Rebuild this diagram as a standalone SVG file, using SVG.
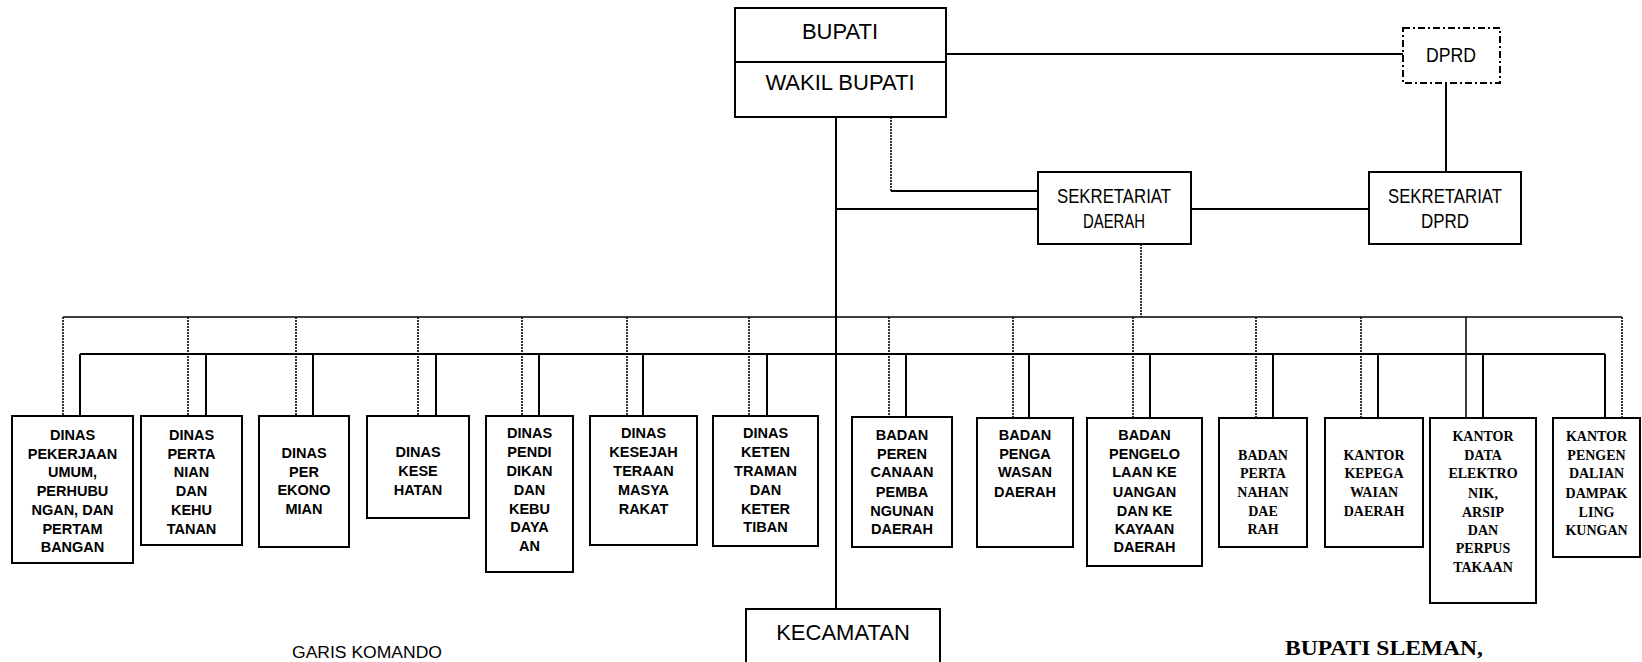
<svg xmlns="http://www.w3.org/2000/svg" width="1642" height="662" viewBox="0 0 1642 662">
<style>
.bx{fill:#fff;stroke:#000;stroke-width:2}
.dp{fill:#fff;stroke:#000;stroke-width:2;stroke-dasharray:7 3 2 3}
.ln{fill:none;stroke:#000;stroke-width:2}
.dl{fill:none;stroke:#000;stroke-width:1.6;stroke-dasharray:2 1}
.th{fill:none;stroke:#000;stroke-width:1.5}
.big{font-family:"Liberation Sans",Arial,sans-serif;font-size:22px;text-anchor:middle;fill:#000}
.mid{font-family:"Liberation Sans",Arial,sans-serif;font-size:20px;text-anchor:middle;fill:#000}
.t{font-family:"Liberation Sans",Arial,sans-serif;font-weight:bold;font-size:14.5px;text-anchor:middle;fill:#000}
.s{font-family:"Liberation Serif","Times New Roman",serif;font-weight:bold;font-size:14px;text-anchor:middle;fill:#000}
</style>

<g id="connectors">
  <line class="ln" x1="946" y1="54" x2="1403" y2="54"/>
  <line class="ln" x1="1446" y1="83" x2="1446" y2="172"/>
  <line class="ln" x1="836" y1="117" x2="836" y2="609"/>
  <polyline class="dl" points="891,117 891,191"/>
  <line class="ln" x1="891" y1="191" x2="1038" y2="191"/>
  <line class="ln" x1="836" y1="209" x2="1038" y2="209"/>
  <line class="ln" x1="1191" y1="209" x2="1369" y2="209"/>
  <line class="dl" x1="1141" y1="244" x2="1141" y2="317"/>
  <line class="th" x1="63" y1="317" x2="1622" y2="317"/>
  <line class="ln" x1="80" y1="354" x2="1605" y2="354"/>
  <g class="dl">
    <line x1="63" y1="317" x2="63" y2="416"/>
    <line x1="188" y1="317" x2="188" y2="416"/>
    <line x1="296" y1="317" x2="296" y2="416"/>
    <line x1="418" y1="317" x2="418" y2="416"/>
    <line x1="522" y1="317" x2="522" y2="416"/>
    <line x1="627" y1="317" x2="627" y2="416"/>
    <line x1="749" y1="317" x2="749" y2="416"/>
    <line x1="889" y1="317" x2="889" y2="417"/>
    <line x1="1013" y1="317" x2="1013" y2="418"/>
    <line x1="1133" y1="317" x2="1133" y2="418"/>
    <line x1="1256" y1="317" x2="1256" y2="418"/>
    <line x1="1361" y1="317" x2="1361" y2="418"/>
    <line x1="1622" y1="317" x2="1622" y2="418"/>
  </g>
  <line class="th" x1="1466" y1="317" x2="1466" y2="418"/>
  <g class="ln">
    <line x1="80" y1="354" x2="80" y2="416"/>
    <line x1="206" y1="354" x2="206" y2="416"/>
    <line x1="313" y1="354" x2="313" y2="416"/>
    <line x1="436" y1="354" x2="436" y2="416"/>
    <line x1="539" y1="354" x2="539" y2="416"/>
    <line x1="643" y1="354" x2="643" y2="416"/>
    <line x1="767" y1="354" x2="767" y2="416"/>
    <line x1="906" y1="354" x2="906" y2="417"/>
    <line x1="1029" y1="354" x2="1029" y2="418"/>
    <line x1="1150" y1="354" x2="1150" y2="418"/>
    <line x1="1273" y1="354" x2="1273" y2="418"/>
    <line x1="1378" y1="354" x2="1378" y2="418"/>
    <line x1="1483" y1="354" x2="1483" y2="418"/>
    <line x1="1605" y1="354" x2="1605" y2="418"/>
  </g>
</g>

<g id="bupati">
  <rect class="bx" x="735" y="8" width="211" height="109"/>
  <line class="ln" x1="735" y1="62" x2="946" y2="62"/>
  <text class="big" x="840" y="39">BUPATI</text>
  <text class="big" x="840" y="90">WAKIL BUPATI</text>
</g>

<g id="dprd">
  <rect class="dp" x="1403" y="28" width="97" height="55"/>
  <text class="mid" x="1451" y="62" textLength="50" lengthAdjust="spacingAndGlyphs">DPRD</text>
</g>

<g id="sekda">
  <rect class="bx" x="1038" y="172" width="153" height="72"/>
  <text class="mid" x="1114" y="203" textLength="114" lengthAdjust="spacingAndGlyphs">SEKRETARIAT</text>
  <text class="mid" x="1114" y="228" textLength="62" lengthAdjust="spacingAndGlyphs">DAERAH</text>
</g>

<g id="sekdprd">
  <rect class="bx" x="1369" y="172" width="152" height="72"/>
  <text class="mid" x="1445" y="203" textLength="114" lengthAdjust="spacingAndGlyphs">SEKRETARIAT</text>
  <text class="mid" x="1445" y="228" textLength="48" lengthAdjust="spacingAndGlyphs">DPRD</text>
</g>

<g id="dinas-pu">
  <rect class="bx" x="12" y="416" width="121" height="147"/>
  <text class="t"><tspan x="72.5" y="440">DINAS</tspan><tspan x="72.5" y="458.7">PEKERJAAN</tspan><tspan x="72.5" y="477.4">UMUM,</tspan><tspan x="72.5" y="496">PERHUBU</tspan><tspan x="72.5" y="514.8">NGAN, DAN</tspan><tspan x="72.5" y="533.5">PERTAM</tspan><tspan x="72.5" y="552">BANGAN</tspan></text>
</g>

<g id="dinas-pertanian">
  <rect class="bx" x="141" y="416" width="101" height="129"/>
  <text class="t"><tspan x="191.5" y="440">DINAS</tspan><tspan x="191.5" y="458.7">PERTA</tspan><tspan x="191.5" y="477.4">NIAN</tspan><tspan x="191.5" y="496">DAN</tspan><tspan x="191.5" y="514.8">KEHU</tspan><tspan x="191.5" y="533.5">TANAN</tspan></text>
</g>

<g id="dinas-perekonomian">
  <rect class="bx" x="259" y="416" width="90" height="131"/>
  <text class="t"><tspan x="304" y="458">DINAS</tspan><tspan x="304" y="477">PER</tspan><tspan x="304" y="495">EKONO</tspan><tspan x="304" y="514">MIAN</tspan></text>
</g>

<g id="dinas-kesehatan">
  <rect class="bx" x="367" y="416" width="102" height="102"/>
  <text class="t"><tspan x="418" y="457">DINAS</tspan><tspan x="418" y="476">KESE</tspan><tspan x="418" y="495">HATAN</tspan></text>
</g>

<g id="dinas-pendidikan">
  <rect class="bx" x="486" y="416" width="87" height="156"/>
  <text class="t"><tspan x="529.5" y="438">DINAS</tspan><tspan x="529.5" y="457">PENDI</tspan><tspan x="529.5" y="476">DIKAN</tspan><tspan x="529.5" y="495">DAN</tspan><tspan x="529.5" y="514">KEBU</tspan><tspan x="529.5" y="532">DAYA</tspan><tspan x="529.5" y="551">AN</tspan></text>
</g>

<g id="dinas-kesejahteraan">
  <rect class="bx" x="590" y="416" width="107" height="129"/>
  <text class="t"><tspan x="643.5" y="438">DINAS</tspan><tspan x="643.5" y="457">KESEJAH</tspan><tspan x="643.5" y="476">TERAAN</tspan><tspan x="643.5" y="495">MASYA</tspan><tspan x="643.5" y="514">RAKAT</tspan></text>
</g>

<g id="dinas-ketentraman">
  <rect class="bx" x="713" y="416" width="105" height="130"/>
  <text class="t"><tspan x="765.5" y="438">DINAS</tspan><tspan x="765.5" y="457">KETEN</tspan><tspan x="765.5" y="476">TRAMAN</tspan><tspan x="765.5" y="495">DAN</tspan><tspan x="765.5" y="514">KETER</tspan><tspan x="765.5" y="532">TIBAN</tspan></text>
</g>

<g id="bappeda">
  <rect class="bx" x="852" y="417" width="100" height="130"/>
  <text class="t"><tspan x="902" y="440">BADAN</tspan><tspan x="902" y="459">PEREN</tspan><tspan x="902" y="477">CANAAN</tspan><tspan x="902" y="497">PEMBA</tspan><tspan x="902" y="516">NGUNAN</tspan><tspan x="902" y="534">DAERAH</tspan></text>
</g>

<g id="bawasda">
  <rect class="bx" x="977" y="418" width="96" height="129"/>
  <text class="t"><tspan x="1025" y="440">BADAN</tspan><tspan x="1025" y="459">PENGA</tspan><tspan x="1025" y="477">WASAN</tspan><tspan x="1025" y="497">DAERAH</tspan></text>
</g>

<g id="bpkkd">
  <rect class="bx" x="1087" y="418" width="115" height="148"/>
  <text class="t"><tspan x="1144.5" y="440">BADAN</tspan><tspan x="1144.5" y="459">PENGELO</tspan><tspan x="1144.5" y="477">LAAN KE</tspan><tspan x="1144.5" y="497">UANGAN</tspan><tspan x="1144.5" y="516">DAN KE</tspan><tspan x="1144.5" y="534">KAYAAN</tspan><tspan x="1144.5" y="552">DAERAH</tspan></text>
</g>

<g id="bpn">
  <rect class="bx" x="1219" y="418" width="88" height="129"/>
  <text class="s"><tspan x="1263" y="460">BADAN</tspan><tspan x="1263" y="478">PERTA</tspan><tspan x="1263" y="497">NAHAN</tspan><tspan x="1263" y="516">DAE</tspan><tspan x="1263" y="534">RAH</tspan></text>
</g>

<g id="kepegawaian">
  <rect class="bx" x="1325" y="418" width="98" height="129"/>
  <text class="s"><tspan x="1374" y="460">KANTOR</tspan><tspan x="1374" y="478">KEPEGA</tspan><tspan x="1374" y="497">WAIAN</tspan><tspan x="1374" y="516">DAERAH</tspan></text>
</g>

<g id="kantor-data">
  <rect class="bx" x="1430" y="418" width="106" height="185"/>
  <text class="s"><tspan x="1483" y="441">KANTOR</tspan><tspan x="1483" y="460">DATA</tspan><tspan x="1483" y="478">ELEKTRO</tspan><tspan x="1483" y="498">NIK,</tspan><tspan x="1483" y="517">ARSIP</tspan><tspan x="1483" y="535">DAN</tspan><tspan x="1483" y="553">PERPUS</tspan><tspan x="1483" y="572">TAKAAN</tspan></text>
</g>

<g id="bapedalda">
  <rect class="bx" x="1553" y="418" width="87" height="139"/>
  <text class="s"><tspan x="1596.5" y="441">KANTOR</tspan><tspan x="1596.5" y="460">PENGEN</tspan><tspan x="1596.5" y="478">DALIAN</tspan><tspan x="1596.5" y="498">DAMPAK</tspan><tspan x="1596.5" y="517">LING</tspan><tspan x="1596.5" y="535">KUNGAN</tspan></text>
</g>

<g id="kecamatan">
  <rect class="bx" x="746" y="609" width="194" height="80"/>
  <text class="big" x="843" y="640">KECAMATAN</text>
</g>

<g id="legend">
  <text x="292" y="658" font-family="'Liberation Sans', Arial, sans-serif" font-size="16" textLength="150" lengthAdjust="spacingAndGlyphs">GARIS KOMANDO</text>
</g>

<g id="signature">
  <text x="1285" y="655" font-family="'Liberation Serif', 'Times New Roman', serif" font-weight="bold" font-size="21" textLength="198" lengthAdjust="spacingAndGlyphs">BUPATI SLEMAN,</text>
</g>
</svg>
